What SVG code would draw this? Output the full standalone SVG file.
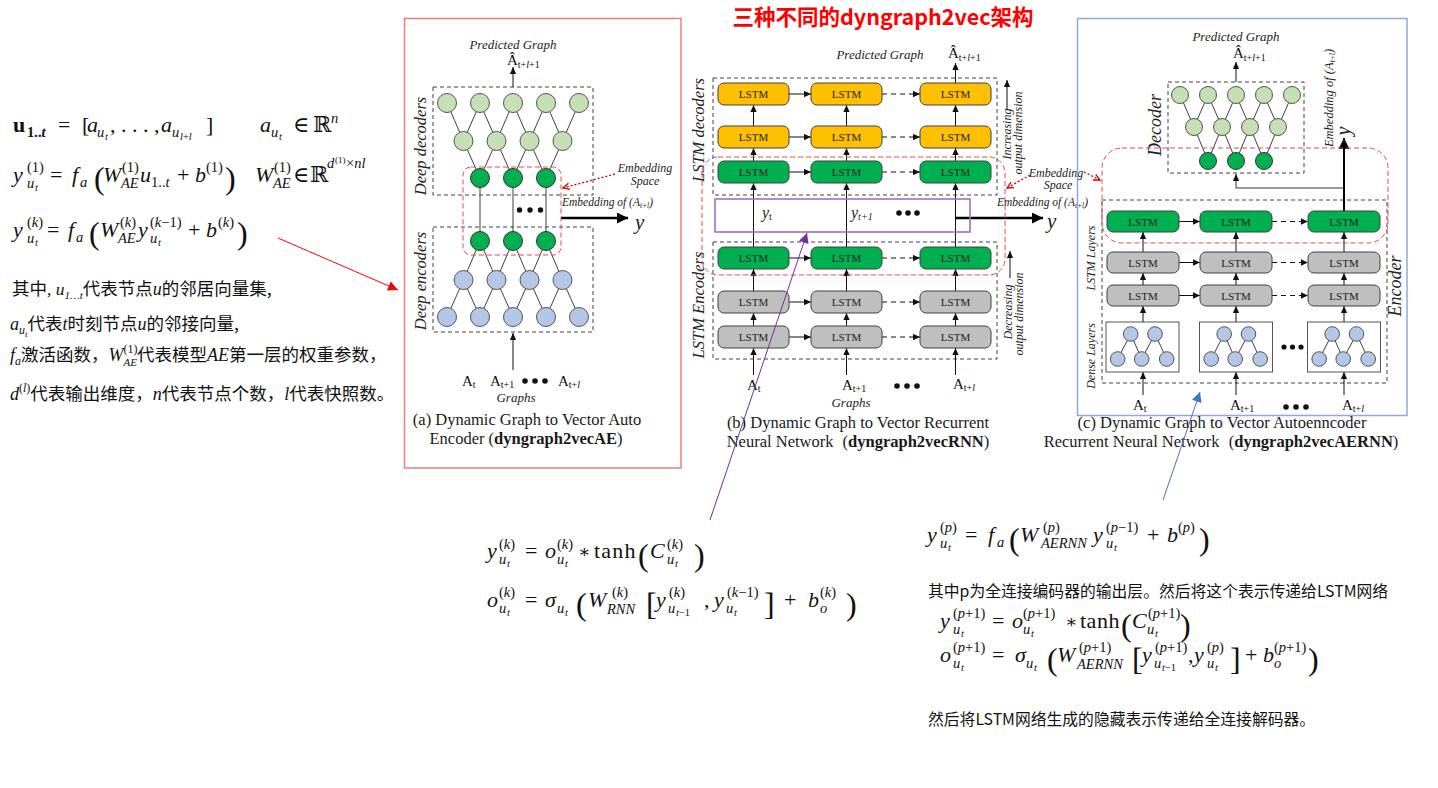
<svg xmlns="http://www.w3.org/2000/svg" width="1438" height="788" viewBox="0 0 1438 788">
<style>
.m{font-family:"Liberation Serif","DejaVu Serif",serif;font-size:22px;fill:#111}
.i{font-style:italic}
.s{font-size:14.5px}
.ss{font-size:10.5px}
.bg{font-size:32px;font-style:normal}
.cjk{font-family:"Noto Sans CJK SC",sans-serif;fill:#111}
.mi{font-family:"Liberation Serif","DejaVu Serif",serif;font-style:italic}
.lbl{font-family:"Liberation Serif",serif;font-style:italic;fill:#222}
.sr{font-family:"Liberation Serif",serif;fill:#111}
.cap{font-family:"Liberation Serif",serif;font-size:16.5px;fill:#1a1a1a}
.lt{font-family:"Liberation Serif",serif;font-size:11px;fill:#222;text-anchor:middle}
.or{fill:#ffc000;stroke:#404040;stroke-width:1}
.gn{fill:#00b050;stroke:#404040;stroke-width:1}
.gy{fill:#bfbfbf;stroke:#404040;stroke-width:1}
.dbox{fill:none;stroke:#404040;stroke-width:1;stroke-dasharray:4 3}
.rdash{fill:none;stroke:#e8474c;stroke-width:1;stroke-dasharray:5 3}
.e{stroke:#404040;stroke-width:1}
.a{stroke:#111;stroke-width:1;fill:none;marker-end:url(#ah)}
.ad{stroke:#111;stroke-width:1;fill:none;stroke-dasharray:5 4;marker-end:url(#ah)}
.lg{fill:#c5e0b4;stroke:#555;stroke-width:1}
.dg{fill:#00b050;stroke:#333;stroke-width:1}
.lb{fill:#b4c7e7;stroke:#555;stroke-width:1}
.dot{fill:#111}
</style>
<defs>
<marker id="ah" viewBox="0 0 10 10" refX="10" refY="5" markerWidth="7" markerHeight="7" markerUnits="userSpaceOnUse" orient="auto"><path d="M0,0.5 L10,5 L0,9.5 z" fill="#111"/></marker>
<marker id="ahT" viewBox="0 0 10 10" refX="10" refY="5" markerWidth="13" markerHeight="11" markerUnits="userSpaceOnUse" orient="auto"><path d="M0,0 L10,5 L0,10 z" fill="#000"/></marker>
<marker id="ahR" viewBox="0 0 10 10" refX="10" refY="5" markerWidth="12" markerHeight="10" markerUnits="userSpaceOnUse" orient="auto"><path d="M0,0 L10,5 L0,10 z" fill="#ff0000"/></marker>
<marker id="ahP" viewBox="0 0 10 10" refX="10" refY="5" markerWidth="13" markerHeight="10" markerUnits="userSpaceOnUse" orient="auto"><path d="M0,0 L10,5 L0,10 z" fill="#7030a0"/></marker>
<marker id="ahB" viewBox="0 0 10 10" refX="10" refY="5" markerWidth="13" markerHeight="10" markerUnits="userSpaceOnUse" orient="auto"><path d="M0,0 L10,5 L0,10 z" fill="#4472c4"/></marker>
<marker id="ahRo" viewBox="0 0 10 10" refX="9" refY="5" markerWidth="8" markerHeight="8" markerUnits="userSpaceOnUse" orient="auto"><path d="M1,1 L9,5 L1,9" fill="none" stroke="#d00000" stroke-width="1.6"/></marker>
</defs>
<rect width="1438" height="788" fill="#ffffff"/>

<!-- Title -->
<text id="title" x="883" y="25" text-anchor="middle" font-family="Noto Sans CJK SC,sans-serif" font-size="21.5" font-weight="bold" fill="#ff0000">三种不同的dyngraph2vec架构</text>

<!-- Left formulas -->
<g id="left-formulas">
<text class="m">
<tspan x="13" y="132" font-weight="bold">u</tspan><tspan x="27" y="137" class="s" font-weight="bold">1..<tspan class="i">t</tspan></tspan>
<tspan x="58" y="132">=</tspan><tspan x="82" y="132">[</tspan>
<tspan x="87" y="132" class="i">a</tspan><tspan x="97" y="137" class="s i">u</tspan><tspan x="105" y="140" class="ss i">t</tspan>
<tspan x="110" y="132">, . . . ,</tspan>
<tspan x="161" y="132" class="i">a</tspan><tspan x="172" y="137" class="s i">u</tspan><tspan x="180" y="140" class="ss"><tspan class="i">l</tspan>+<tspan class="i">l</tspan></tspan>
<tspan x="206" y="132">]</tspan>
<tspan x="260" y="132" class="i">a</tspan><tspan x="271" y="137" class="s i">u</tspan><tspan x="279" y="140" class="ss i">t</tspan>
<tspan x="293" y="132">∈</tspan><tspan x="313" y="132">ℝ</tspan><tspan x="331" y="123" class="s i">n</tspan>
</text>
<text class="m">
<tspan x="13" y="182" class="i">y</tspan><tspan x="27" y="172" class="s">(1)</tspan><tspan x="27" y="188" class="s i">u</tspan><tspan x="35" y="191" class="ss i">t</tspan>
<tspan x="50" y="182">=</tspan>
<tspan x="72" y="182" class="i">f</tspan><tspan x="80" y="187" class="s i">a</tspan>
<tspan x="94" y="189" class="bg">(</tspan>
<tspan x="103" y="182" class="i">W</tspan><tspan x="122" y="172" class="s">(1)</tspan><tspan x="121" y="188" class="s i">AE</tspan>
<tspan x="140" y="182" class="i">u</tspan><tspan x="151" y="187" class="s">1..<tspan class="i">t</tspan></tspan>
<tspan x="177" y="182">+</tspan>
<tspan x="195" y="182" class="i">b</tspan><tspan x="206" y="172" class="s">(1)</tspan>
<tspan x="225" y="189" class="bg">)</tspan>
<tspan x="255" y="182" class="i">W</tspan><tspan x="274" y="172" class="s">(1)</tspan><tspan x="273" y="188" class="s i">AE</tspan>
<tspan x="293" y="182">∈</tspan><tspan x="310" y="182">ℝ</tspan>
<tspan x="327" y="168" class="s i">d</tspan><tspan x="335" y="163" font-size="9">(1)</tspan><tspan x="346" y="168" class="s">×<tspan class="i">nl</tspan></tspan>
</text>
<text class="m">
<tspan x="13" y="237" class="i">y</tspan><tspan x="27" y="227" class="s">(<tspan class="i">k</tspan>)</tspan><tspan x="27" y="243" class="s i">u</tspan><tspan x="35" y="246" class="ss i">t</tspan>
<tspan x="47" y="237">=</tspan>
<tspan x="68" y="237" class="i">f</tspan><tspan x="76" y="242" class="s i">a</tspan>
<tspan x="89" y="244" class="bg">(</tspan>
<tspan x="100" y="237" class="i">W</tspan><tspan x="120" y="227" class="s">(<tspan class="i">k</tspan>)</tspan><tspan x="118" y="243" class="s i">AE</tspan>
<tspan x="138" y="237" class="i">y</tspan><tspan x="150" y="227" class="s">(<tspan class="i">k</tspan>−1)</tspan><tspan x="150" y="243" class="s i">u</tspan><tspan x="158" y="246" class="ss i">t</tspan>
<tspan x="188" y="237">+</tspan>
<tspan x="206" y="237" class="i">b</tspan><tspan x="218" y="227" class="s">(<tspan class="i">k</tspan>)</tspan>
<tspan x="237" y="244" class="bg">)</tspan>
</text>
</g>

<g id="left-notes" class="cjk" font-size="17.5">
<text x="12" y="295">其中<tspan class="mi">, u</tspan><tspan class="mi" font-size="11" dy="4">1…t</tspan><tspan dy="-4">代表节点</tspan><tspan class="mi" font-size="18">u</tspan>的邻居向量集,</text>
<text x="10" y="330"><tspan class="mi" font-size="18">a</tspan><tspan class="mi" font-size="12" dy="4">u</tspan><tspan class="mi" font-size="9" dy="3">t</tspan><tspan dy="-7">代表</tspan><tspan class="mi" font-size="18">t</tspan>时刻节点<tspan class="mi" font-size="18">u</tspan>的邻接向量,</text>
<text x="10" y="361"><tspan class="mi" font-size="18">f</tspan><tspan class="mi" font-size="12" dy="4">a</tspan><tspan dy="-4">激活函数，</tspan><tspan class="mi" font-size="18">W</tspan><tspan font-family="Liberation Serif,serif" font-size="12" dy="-8">(1)</tspan><tspan class="mi" font-size="11" dx="-14" dy="13">AE</tspan><tspan dy="-5">代表模型</tspan><tspan class="mi" font-size="18">AE</tspan>第一层的权重参数，</text>
<text x="10" y="400"><tspan class="mi" font-size="18">d</tspan><tspan font-family="Liberation Serif,serif" font-size="12" dy="-8">(<tspan font-style="italic">l</tspan>)</tspan><tspan dy="8">代表输出维度，</tspan><tspan class="mi" font-size="18">n</tspan>代表节点个数，<tspan class="mi" font-size="18">l</tspan>代表快照数。</text>
</g>

<!-- Bottom-left formulas -->
<g id="rnn-formulas">
<text class="m">
<tspan x="487" y="558" class="i">y</tspan><tspan x="499" y="549" class="s">(<tspan class="i">k</tspan>)</tspan><tspan x="499" y="564" class="s i">u</tspan><tspan x="507" y="567" class="ss i">t</tspan>
<tspan x="525" y="558">=</tspan>
<tspan x="545" y="558" class="i">o</tspan><tspan x="557" y="549" class="s">(<tspan class="i">k</tspan>)</tspan><tspan x="557" y="564" class="s i">u</tspan><tspan x="565" y="567" class="ss i">t</tspan>
<tspan x="578" y="558" font-size="18">∗</tspan>
<tspan x="594" y="558" letter-spacing="1.2">tanh</tspan>
<tspan x="638" y="566" class="bg">(</tspan>
<tspan x="650" y="558" class="i">C</tspan><tspan x="667" y="549" class="s">(<tspan class="i">k</tspan>)</tspan><tspan x="667" y="564" class="s i">u</tspan><tspan x="675" y="567" class="ss i">t</tspan>
<tspan x="694" y="566" class="bg">)</tspan>
</text>
<text class="m">
<tspan x="487" y="607" class="i">o</tspan><tspan x="499" y="597" class="s">(<tspan class="i">k</tspan>)</tspan><tspan x="499" y="613" class="s i">u</tspan><tspan x="507" y="616" class="ss i">t</tspan>
<tspan x="525" y="607">=</tspan>
<tspan x="545" y="607" class="i">σ</tspan><tspan x="557" y="613" class="s i">u</tspan><tspan x="565" y="616" class="ss i">t</tspan>
<tspan x="576" y="615" class="bg">(</tspan>
<tspan x="588" y="607" class="i">W</tspan><tspan x="612" y="597" class="s">(<tspan class="i">k</tspan>)</tspan><tspan x="607" y="614" class="s i">RNN</tspan>
<tspan x="646" y="615" class="bg">[</tspan>
<tspan x="656" y="607" class="i">y</tspan><tspan x="669" y="597" class="s">(<tspan class="i">k</tspan>)</tspan><tspan x="668" y="613" class="s i">u</tspan><tspan x="676" y="616" class="ss"><tspan class="i">t</tspan>−1</tspan>
<tspan x="704" y="607">,</tspan>
<tspan x="714" y="607" class="i">y</tspan><tspan x="727" y="597" class="s">(<tspan class="i">k</tspan>−1)</tspan><tspan x="726" y="613" class="s i">u</tspan><tspan x="734" y="616" class="ss i">t</tspan>
<tspan x="764" y="615" class="bg">]</tspan>
<tspan x="784" y="607">+</tspan>
<tspan x="808" y="607" class="i">b</tspan><tspan x="820" y="597" class="s">(<tspan class="i">k</tspan>)</tspan><tspan x="820" y="613" class="s i">o</tspan>
<tspan x="846" y="615" class="bg">)</tspan>
</text>
</g>

<!-- Right formulas -->
<g id="aernn-formulas">
<text class="m">
<tspan x="927" y="542" class="i">y</tspan><tspan x="940" y="532" class="s">(<tspan class="i">p</tspan>)</tspan><tspan x="940" y="548" class="s i">u</tspan><tspan x="948" y="551" class="ss i">t</tspan>
<tspan x="965" y="542">=</tspan>
<tspan x="988" y="542" class="i">f</tspan><tspan x="997" y="547" class="s i">a</tspan>
<tspan x="1009" y="550" class="bg">(</tspan>
<tspan x="1020" y="542" class="i">W</tspan><tspan x="1043" y="532" class="s">(<tspan class="i">p</tspan>)</tspan><tspan x="1041" y="548" class="s i">AERNN</tspan>
<tspan x="1093" y="542" class="i">y</tspan><tspan x="1106" y="532" class="s">(<tspan class="i">p</tspan>−1)</tspan><tspan x="1106" y="548" class="s i">u</tspan><tspan x="1114" y="551" class="ss i">t</tspan>
<tspan x="1147" y="542">+</tspan>
<tspan x="1167" y="542" class="i">b</tspan><tspan x="1178" y="532" class="s">(<tspan class="i">p</tspan>)</tspan>
<tspan x="1199" y="550" class="bg">)</tspan>
</text>
<text class="cjk" x="928" y="597" font-size="15.8" fill="#222">其中p为全连接编码器的输出层。然后将这个表示传递给LSTM网络</text>
<text class="m">
<tspan x="940" y="628" class="i">y</tspan><tspan x="953" y="618" class="s">(<tspan class="i">p</tspan>+1)</tspan><tspan x="953" y="634" class="s i">u</tspan><tspan x="961" y="637" class="ss i">t</tspan>
<tspan x="992" y="628">=</tspan>
<tspan x="1012" y="628" class="i">o</tspan><tspan x="1023" y="618" class="s">(<tspan class="i">p</tspan>+1)</tspan><tspan x="1023" y="634" class="s i">u</tspan><tspan x="1031" y="637" class="ss i">t</tspan>
<tspan x="1065" y="628" font-size="18">∗</tspan>
<tspan x="1080" y="628" letter-spacing="0.5">tanh</tspan>
<tspan x="1121" y="636" class="bg">(</tspan>
<tspan x="1132" y="628" class="i">C</tspan><tspan x="1148" y="618" class="s">(<tspan class="i">p</tspan>+1)</tspan><tspan x="1147" y="634" class="s i">u</tspan><tspan x="1155" y="637" class="ss i">t</tspan>
<tspan x="1180" y="636" class="bg">)</tspan>
</text>
<text class="m">
<tspan x="940" y="662" class="i">o</tspan><tspan x="953" y="652" class="s">(<tspan class="i">p</tspan>+1)</tspan><tspan x="953" y="668" class="s i">u</tspan><tspan x="961" y="671" class="ss i">t</tspan>
<tspan x="992" y="662">=</tspan>
<tspan x="1015" y="662" class="i">σ</tspan><tspan x="1026" y="668" class="s i">u</tspan><tspan x="1034" y="671" class="ss i">t</tspan>
<tspan x="1047" y="670" class="bg">(</tspan>
<tspan x="1057" y="662" class="i">W</tspan><tspan x="1079" y="652" class="s">(<tspan class="i">p</tspan>+1)</tspan><tspan x="1077" y="669" class="s i">AERNN</tspan>
<tspan x="1132" y="670" class="bg">[</tspan>
<tspan x="1142" y="662" class="i">y</tspan><tspan x="1155" y="652" class="s">(<tspan class="i">p</tspan>+1)</tspan><tspan x="1154" y="668" class="s i">u</tspan><tspan x="1162" y="671" class="ss"><tspan class="i">t</tspan>−1</tspan>
<tspan x="1188" y="662">,</tspan>
<tspan x="1194" y="662" class="i">y</tspan><tspan x="1207" y="652" class="s">(<tspan class="i">p</tspan>)</tspan><tspan x="1207" y="668" class="s i">u</tspan><tspan x="1215" y="671" class="ss i">t</tspan>
<tspan x="1230" y="670" class="bg">]</tspan>
<tspan x="1245" y="662">+</tspan>
<tspan x="1263" y="662" class="i">b</tspan><tspan x="1274" y="652" class="s">(<tspan class="i">p</tspan>+1)</tspan><tspan x="1274" y="668" class="s i">o</tspan>
<tspan x="1308" y="670" class="bg">)</tspan>
</text>
<text class="cjk" x="928" y="725" font-size="15.8" fill="#222">然后将LSTM网络生成的隐藏表示传递给全连接解码器。</text>
</g>

<!-- ================= Panel (a) ================= -->
<g id="panel-a">
<rect x="404.5" y="18.5" width="276.5" height="449.5" fill="none" stroke="#f07c7c" stroke-width="1.5"/>
<text class="lbl" x="513" y="49" font-size="13" text-anchor="middle">Predicted Graph</text>
<text class="sr" x="507" y="65" font-size="15">Â<tspan font-size="10" dy="3">t+<tspan font-style="italic">l</tspan>+1</tspan></text>
<rect class="dbox" x="433" y="87" width="160" height="108"/>
<rect class="dbox" x="433" y="227" width="160" height="105"/>
<text class="lbl" font-size="16.5" text-anchor="middle" transform="translate(426,146) rotate(-90)">Deep decoders</text>
<text class="lbl" font-size="16.5" text-anchor="middle" transform="translate(426,281) rotate(-90)">Deep encoders</text>
</g>

<g id="a-connectors">
<line class="a" x1="513" y1="87" x2="513" y2="67"/>
<line class="a" x1="513" y1="370" x2="513" y2="333"/>
<g class="e">
<line x1="463.5" y1="141" x2="447" y2="103"/><line x1="463.5" y1="141" x2="480" y2="103"/>
<line x1="496.5" y1="141" x2="480" y2="103"/><line x1="496.5" y1="141" x2="513" y2="103"/>
<line x1="529.5" y1="141" x2="513" y2="103"/><line x1="529.5" y1="141" x2="546" y2="103"/>
<line x1="562.5" y1="141" x2="546" y2="103"/><line x1="562.5" y1="141" x2="579" y2="103"/>
<line x1="480" y1="178" x2="463.5" y2="141"/><line x1="480" y1="178" x2="496.5" y2="141"/>
<line x1="513" y1="178" x2="496.5" y2="141"/><line x1="513" y1="178" x2="529.5" y2="141"/>
<line x1="546" y1="178" x2="529.5" y2="141"/><line x1="546" y1="178" x2="562.5" y2="141"/>
<line x1="480" y1="178" x2="480" y2="241"/><line x1="513" y1="178" x2="513" y2="241"/><line x1="546" y1="178" x2="546" y2="241"/>
<line x1="480" y1="241" x2="463.5" y2="280"/><line x1="480" y1="241" x2="496.5" y2="280"/>
<line x1="513" y1="241" x2="496.5" y2="280"/><line x1="513" y1="241" x2="529.5" y2="280"/>
<line x1="546" y1="241" x2="529.5" y2="280"/><line x1="546" y1="241" x2="562.5" y2="280"/>
<line x1="463.5" y1="280" x2="447" y2="317"/><line x1="463.5" y1="280" x2="480" y2="317"/>
<line x1="496.5" y1="280" x2="480" y2="317"/><line x1="496.5" y1="280" x2="513" y2="317"/>
<line x1="529.5" y1="280" x2="513" y2="317"/><line x1="529.5" y1="280" x2="546" y2="317"/>
<line x1="562.5" y1="280" x2="546" y2="317"/><line x1="562.5" y1="280" x2="579" y2="317"/>
</g>
<line x1="561" y1="218" x2="628" y2="218" stroke="#000" stroke-width="2.5" marker-end="url(#ahT)"/>
<line x1="615" y1="174" x2="563" y2="188" stroke="#d00000" stroke-width="1.3" stroke-dasharray="2 2" marker-end="url(#ahRo)"/>
</g>

<g id="a-decoder-l1"><circle class="lg" cx="447" cy="103" r="9.5"/><circle class="lg" cx="480" cy="103" r="9.5"/><circle class="lg" cx="513" cy="103" r="9.5"/><circle class="lg" cx="546" cy="103" r="9.5"/><circle class="lg" cx="579" cy="103" r="9.5"/></g>
<g id="a-decoder-l2"><circle class="lg" cx="463.5" cy="141" r="9.5"/><circle class="lg" cx="496.5" cy="141" r="9.5"/><circle class="lg" cx="529.5" cy="141" r="9.5"/><circle class="lg" cx="562.5" cy="141" r="9.5"/></g>
<g id="a-embed-top"><circle class="dg" cx="480" cy="178" r="9.5"/><circle class="dg" cx="513" cy="178" r="9.5"/><circle class="dg" cx="546" cy="178" r="9.5"/></g>
<g id="a-embed-bottom"><circle class="dg" cx="480" cy="241" r="9.5"/><circle class="dg" cx="513" cy="241" r="9.5"/><circle class="dg" cx="546" cy="241" r="9.5"/></g>
<g id="a-encoder-l2"><circle class="lb" cx="463.5" cy="280" r="9.5"/><circle class="lb" cx="496.5" cy="280" r="9.5"/><circle class="lb" cx="529.5" cy="280" r="9.5"/><circle class="lb" cx="562.5" cy="280" r="9.5"/></g>
<g id="a-encoder-l1"><circle class="lb" cx="447" cy="317" r="9.5"/><circle class="lb" cx="480" cy="317" r="9.5"/><circle class="lb" cx="513" cy="317" r="9.5"/><circle class="lb" cx="546" cy="317" r="9.5"/><circle class="lb" cx="579" cy="317" r="9.5"/></g>
<g id="a-embedding-space">
<rect class="rdash" x="463" y="167" width="98" height="88" rx="8"/>
<circle class="dot" cx="519.5" cy="210" r="2.7"/><circle class="dot" cx="530" cy="210" r="2.7"/><circle class="dot" cx="540.5" cy="210" r="2.7"/>
<text class="lbl" font-size="12" text-anchor="middle" x="645" y="172">Embedding</text>
<text class="lbl" font-size="12" text-anchor="middle" x="645" y="185">Space</text>
<text class="lbl" font-size="11.5" x="562" y="206">Embedding of (<tspan>A</tspan><tspan font-size="7.5" dy="2">t+l</tspan><tspan dy="-2">)</tspan></text>
<text class="lbl" font-size="21" x="635" y="229">y</text>
</g>
<g id="a-inputs" class="sr">
<text x="462" y="386" font-size="15">A<tspan font-size="10" dy="2">t</tspan></text>
<text x="490" y="386" font-size="15">A<tspan font-size="10" dy="2">t+1</tspan></text>
<circle class="dot" cx="525" cy="381" r="2.8"/><circle class="dot" cx="535" cy="381" r="2.8"/><circle class="dot" cx="545" cy="381" r="2.8"/>
<text x="558" y="386" font-size="15">A<tspan font-size="10" dy="2">t+<tspan font-style="italic">l</tspan></tspan></text>
<text class="lbl" x="516" y="402" font-size="13" text-anchor="middle">Graphs</text>
</g>
<g id="a-caption" class="cap" text-anchor="middle">
<text x="527" y="425">(a) Dynamic Graph to Vector Auto</text>
<text x="526" y="444">Encoder (<tspan font-weight="bold">dyngraph2vecAE</tspan>)</text>
</g>

<!-- ================= Panel (b) ================= -->
<g id="panel-b">
<text class="lbl" x="880" y="59" font-size="13" text-anchor="middle">Predicted Graph</text>
<text class="sr" x="948" y="58" font-size="15">Â<tspan font-size="10" dy="3">t+<tspan font-style="italic">l</tspan>+1</tspan></text>
<rect class="dbox" x="713" y="78" width="284" height="117"/>
<rect class="dbox" x="713" y="242" width="284" height="117"/>
<text class="lbl" font-size="16.5" text-anchor="middle" transform="translate(704,130) rotate(-90)">LSTM decoders</text>
<text class="lbl" font-size="16.5" text-anchor="middle" transform="translate(704,305) rotate(-90)">LSTM Encoders</text>
<text class="lbl" font-size="12" text-anchor="middle" transform="translate(1011,134) rotate(-90)">Increasing</text>
<text class="lbl" font-size="12" text-anchor="middle" transform="translate(1022,133) rotate(-90)">output dimension</text>
<text class="lbl" font-size="12" text-anchor="middle" transform="translate(1012,312) rotate(-90)">Decreasing</text>
<text class="lbl" font-size="12" text-anchor="middle" transform="translate(1023,314) rotate(-90)">output dimension</text>
</g>

<g id="b-connectors">
<line class="a" x1="1007" y1="110" x2="1007" y2="80"/>
<line class="a" x1="1010" y1="278" x2="1010" y2="251"/>
<g id="b-vert">
<line class="a" x1="753.5" y1="375" x2="753.5" y2="348"/><line class="a" x1="846.5" y1="375" x2="846.5" y2="348"/><line class="a" x1="955.5" y1="375" x2="955.5" y2="348"/>
<line class="a" x1="753.5" y1="326" x2="753.5" y2="313"/><line class="a" x1="846.5" y1="326" x2="846.5" y2="313"/><line class="a" x1="955.5" y1="326" x2="955.5" y2="313"/>
<line class="a" x1="753.5" y1="291" x2="753.5" y2="269"/><line class="a" x1="846.5" y1="291" x2="846.5" y2="269"/><line class="a" x1="955.5" y1="291" x2="955.5" y2="269"/>
<line class="a" x1="753.5" y1="247" x2="753.5" y2="183"/><line class="a" x1="846.5" y1="247" x2="846.5" y2="183"/><line class="a" x1="955.5" y1="247" x2="955.5" y2="183"/>
<line class="a" x1="753.5" y1="161" x2="753.5" y2="148"/><line class="a" x1="846.5" y1="161" x2="846.5" y2="148"/><line class="a" x1="955.5" y1="161" x2="955.5" y2="148"/>
<line class="a" x1="753.5" y1="126" x2="753.5" y2="105"/><line class="a" x1="846.5" y1="126" x2="846.5" y2="105"/><line class="a" x1="955.5" y1="126" x2="955.5" y2="105"/>
<line class="a" x1="955.5" y1="83" x2="955.5" y2="63"/>
</g>
<g id="b-horiz">
<line class="a" x1="789" y1="94" x2="811" y2="94"/><line class="ad" x1="882" y1="94" x2="920" y2="94"/>
<line class="a" x1="789" y1="137" x2="811" y2="137"/><line class="ad" x1="882" y1="137" x2="920" y2="137"/>
<line class="a" x1="789" y1="172" x2="811" y2="172"/><line class="ad" x1="882" y1="172" x2="920" y2="172"/>
<line class="a" x1="789" y1="258" x2="811" y2="258"/><line class="ad" x1="882" y1="258" x2="920" y2="258"/>
<line class="a" x1="789" y1="302" x2="811" y2="302"/><line class="ad" x1="882" y1="302" x2="920" y2="302"/>
<line class="a" x1="789" y1="337" x2="811" y2="337"/><line class="ad" x1="882" y1="337" x2="920" y2="337"/>
</g>
<line x1="955.5" y1="218" x2="1043" y2="218" stroke="#000" stroke-width="2.5" marker-end="url(#ahT)"/>
<line x1="1030" y1="175" x2="1007" y2="188" stroke="#d00000" stroke-width="1.3" stroke-dasharray="2 2" marker-end="url(#ahRo)"/>
<line x1="1084" y1="172" x2="1100" y2="180" stroke="#d00000" stroke-width="1.3" stroke-dasharray="2 2" marker-end="url(#ahRo)"/>
</g>

<g id="b-lstm" >
<g id="b-o1-1"><rect class="or" x="718" y="83" width="71" height="22" rx="6"/><text class="lt" x="753.5" y="98">LSTM</text></g>
<g id="b-o1-2"><rect class="or" x="811" y="83" width="71" height="22" rx="6"/><text class="lt" x="846.5" y="98">LSTM</text></g>
<g id="b-o1-3"><rect class="or" x="920" y="83" width="71" height="22" rx="6"/><text class="lt" x="955.5" y="98">LSTM</text></g>
<g id="b-o2-1"><rect class="or" x="718" y="126" width="71" height="22" rx="6"/><text class="lt" x="753.5" y="141">LSTM</text></g>
<g id="b-o2-2"><rect class="or" x="811" y="126" width="71" height="22" rx="6"/><text class="lt" x="846.5" y="141">LSTM</text></g>
<g id="b-o2-3"><rect class="or" x="920" y="126" width="71" height="22" rx="6"/><text class="lt" x="955.5" y="141">LSTM</text></g>
<g id="b-g1-1"><rect class="gn" x="718" y="161" width="71" height="22" rx="6"/><text class="lt" x="753.5" y="176">LSTM</text></g>
<g id="b-g1-2"><rect class="gn" x="811" y="161" width="71" height="22" rx="6"/><text class="lt" x="846.5" y="176">LSTM</text></g>
<g id="b-g1-3"><rect class="gn" x="920" y="161" width="71" height="22" rx="6"/><text class="lt" x="955.5" y="176">LSTM</text></g>
<g id="b-g2-1"><rect class="gn" x="718" y="247" width="71" height="22" rx="6"/><text class="lt" x="753.5" y="262">LSTM</text></g>
<g id="b-g2-2"><rect class="gn" x="811" y="247" width="71" height="22" rx="6"/><text class="lt" x="846.5" y="262">LSTM</text></g>
<g id="b-g2-3"><rect class="gn" x="920" y="247" width="71" height="22" rx="6"/><text class="lt" x="955.5" y="262">LSTM</text></g>
<g id="b-r1-1"><rect class="gy" x="718" y="291" width="71" height="22" rx="6"/><text class="lt" x="753.5" y="306">LSTM</text></g>
<g id="b-r1-2"><rect class="gy" x="811" y="291" width="71" height="22" rx="6"/><text class="lt" x="846.5" y="306">LSTM</text></g>
<g id="b-r1-3"><rect class="gy" x="920" y="291" width="71" height="22" rx="6"/><text class="lt" x="955.5" y="306">LSTM</text></g>
<g id="b-r2-1"><rect class="gy" x="718" y="326" width="71" height="22" rx="6"/><text class="lt" x="753.5" y="341">LSTM</text></g>
<g id="b-r2-2"><rect class="gy" x="811" y="326" width="71" height="22" rx="6"/><text class="lt" x="846.5" y="341">LSTM</text></g>
<g id="b-r2-3"><rect class="gy" x="920" y="326" width="71" height="22" rx="6"/><text class="lt" x="955.5" y="341">LSTM</text></g>
</g>
<g id="b-embedding">
<rect x="715" y="199" width="255" height="33" fill="none" stroke="#a070d0" stroke-width="1.6"/>
<text class="lbl" x="762" y="218" font-size="16">y<tspan font-size="10" font-style="normal" dy="2">t</tspan></text>
<text class="lbl" x="851" y="218" font-size="16">y<tspan font-size="10" dy="2">t+1</tspan></text>
<circle class="dot" cx="899" cy="213" r="2.8"/><circle class="dot" cx="908" cy="213" r="2.8"/><circle class="dot" cx="917" cy="213" r="2.8"/>
<rect class="rdash" x="702" y="157" width="303" height="118" rx="16"/>
<text class="lbl" font-size="12" text-anchor="middle" x="1056" y="177">Embedding</text>
<text class="lbl" font-size="12" text-anchor="middle" x="1058" y="189">Space</text>
<text class="lbl" font-size="11.5" x="997" y="206">Embedding of (<tspan>A</tspan><tspan font-size="7.5" dy="2">t+l</tspan><tspan dy="-2">)</tspan></text>
<text class="lbl" font-size="21" x="1047" y="228">y</text>
</g>
<g id="b-inputs" class="sr">
<text x="747" y="390" font-size="15">A<tspan font-size="10" dy="2">t</tspan></text>
<text x="842" y="390" font-size="15">A<tspan font-size="10" dy="2">t+1</tspan></text>
<circle class="dot" cx="897" cy="386" r="2.8"/><circle class="dot" cx="907" cy="386" r="2.8"/><circle class="dot" cx="917" cy="386" r="2.8"/>
<text x="953" y="389" font-size="15">A<tspan font-size="10" dy="2">t+<tspan font-style="italic">l</tspan></tspan></text>
<text class="lbl" x="851" y="407" font-size="13" text-anchor="middle">Graphs</text>
</g>
<g id="b-caption" class="cap" text-anchor="middle">
<text x="858" y="428">(b) Dynamic Graph to Vector Recurrent</text>
<text x="858" y="447">Neural Network <tspan dx="5">(</tspan><tspan font-weight="bold">dyngraph2vecRNN</tspan>)</text>
</g>

<!-- ================= Panel (c) ================= -->
<g id="panel-c">
<rect x="1077.5" y="18.5" width="329.5" height="397" fill="none" stroke="#8eaadb" stroke-width="1.5"/>
<text class="lbl" x="1236" y="41" font-size="13" text-anchor="middle">Predicted Graph</text>
<text class="sr" x="1233" y="58" font-size="15">Â<tspan font-size="10" dy="3">t+<tspan font-style="italic">l</tspan>+1</tspan></text>
<rect class="dbox" x="1168" y="82" width="136" height="91"/>
<rect class="dbox" x="1102" y="200" width="285" height="183"/>
<text class="lbl" font-size="18" text-anchor="middle" transform="translate(1161,125) rotate(-90)">Decoder</text>
<text class="lbl" font-size="18" text-anchor="middle" transform="translate(1401,286) rotate(-90)">Encoder</text>
<text class="lbl" font-size="12" text-anchor="middle" transform="translate(1095,258) rotate(-90)">LSTM Layers</text>
<text class="lbl" font-size="12" text-anchor="middle" transform="translate(1095,356) rotate(-90)">Dense Layers</text>
<text class="lbl" font-size="12.5" text-anchor="middle" transform="translate(1333,98) rotate(-90)">Embedding of (A<tspan font-size="7.5" dy="2">t+l</tspan><tspan dy="-2">)</tspan></text>
<text class="lbl" font-size="20" text-anchor="middle" transform="translate(1350,131) rotate(-90)">y</text>
</g>

<g id="c-connectors">
<line class="a" x1="1236" y1="82" x2="1236" y2="62"/>
<g class="e">
<line x1="1194" y1="127" x2="1180" y2="95"/><line x1="1194" y1="127" x2="1208" y2="95"/>
<line x1="1222" y1="127" x2="1208" y2="95"/><line x1="1222" y1="127" x2="1236" y2="95"/>
<line x1="1250" y1="127" x2="1236" y2="95"/><line x1="1250" y1="127" x2="1264" y2="95"/>
<line x1="1278" y1="127" x2="1264" y2="95"/><line x1="1278" y1="127" x2="1292" y2="95"/>
<line x1="1208" y1="161" x2="1194" y2="127"/><line x1="1208" y1="161" x2="1222" y2="127"/>
<line x1="1236" y1="161" x2="1222" y2="127"/><line x1="1236" y1="161" x2="1250" y2="127"/>
<line x1="1264" y1="161" x2="1250" y2="127"/><line x1="1264" y1="161" x2="1278" y2="127"/>
</g>
<line class="a" x1="1143" y1="395" x2="1143" y2="372"/><line class="a" x1="1236" y1="395" x2="1236" y2="372"/><line class="a" x1="1344" y1="395" x2="1344" y2="372"/>
<line class="a" x1="1143" y1="322" x2="1143" y2="306"/><line class="a" x1="1236" y1="322" x2="1236" y2="306"/><line class="a" x1="1344" y1="322" x2="1344" y2="306"/>
<line class="a" x1="1143" y1="285" x2="1143" y2="273"/><line class="a" x1="1236" y1="285" x2="1236" y2="273"/><line class="a" x1="1344" y1="285" x2="1344" y2="273"/>
<line class="a" x1="1143" y1="252" x2="1143" y2="232"/><line class="a" x1="1236" y1="252" x2="1236" y2="232"/><line class="a" x1="1344" y1="252" x2="1344" y2="232"/>
<line class="a" x1="1179" y1="221.5" x2="1200" y2="221.5"/><line class="ad" x1="1272" y1="221.5" x2="1308" y2="221.5"/>
<line class="a" x1="1179" y1="262.5" x2="1200" y2="262.5"/><line class="ad" x1="1272" y1="262.5" x2="1308" y2="262.5"/>
<line class="a" x1="1179" y1="295.5" x2="1200" y2="295.5"/><line class="ad" x1="1272" y1="295.5" x2="1308" y2="295.5"/>
<polyline points="1344,188 1236,188 1236,174" fill="none" stroke="#333" stroke-width="1" marker-end="url(#ah)"/>
<line x1="1344" y1="211" x2="1344" y2="138" stroke="#000" stroke-width="2" marker-end="url(#ahT)"/>
</g>

<g id="c-decoder-l1"><circle class="lg" cx="1180" cy="95" r="8.5"/><circle class="lg" cx="1208" cy="95" r="8.5"/><circle class="lg" cx="1236" cy="95" r="8.5"/><circle class="lg" cx="1264" cy="95" r="8.5"/><circle class="lg" cx="1292" cy="95" r="8.5"/></g>
<g id="c-decoder-l2"><circle class="lg" cx="1194" cy="127" r="8.5"/><circle class="lg" cx="1222" cy="127" r="8.5"/><circle class="lg" cx="1250" cy="127" r="8.5"/><circle class="lg" cx="1278" cy="127" r="8.5"/></g>
<g id="c-decoder-l3"><circle class="dg" cx="1208" cy="161" r="8.5"/><circle class="dg" cx="1236" cy="161" r="8.5"/><circle class="dg" cx="1264" cy="161" r="8.5"/></g>

<g id="c-lstm">
<g id="c-g-1"><rect class="gn" x="1107" y="211" width="72" height="21" rx="6"/><text class="lt" x="1143" y="225.5">LSTM</text></g>
<g id="c-g-2"><rect class="gn" x="1200" y="211" width="72" height="21" rx="6"/><text class="lt" x="1236" y="225.5">LSTM</text></g>
<g id="c-g-3"><rect class="gn" x="1308" y="211" width="72" height="21" rx="6"/><text class="lt" x="1344" y="225.5">LSTM</text></g>
<g id="c-r1-1"><rect class="gy" x="1107" y="252" width="72" height="21" rx="6"/><text class="lt" x="1143" y="266.5">LSTM</text></g>
<g id="c-r1-2"><rect class="gy" x="1200" y="252" width="72" height="21" rx="6"/><text class="lt" x="1236" y="266.5">LSTM</text></g>
<g id="c-r1-3"><rect class="gy" x="1308" y="252" width="72" height="21" rx="6"/><text class="lt" x="1344" y="266.5">LSTM</text></g>
<g id="c-r2-1"><rect class="gy" x="1107" y="285" width="72" height="21" rx="6"/><text class="lt" x="1143" y="299.5">LSTM</text></g>
<g id="c-r2-2"><rect class="gy" x="1200" y="285" width="72" height="21" rx="6"/><text class="lt" x="1236" y="299.5">LSTM</text></g>
<g id="c-r2-3"><rect class="gy" x="1308" y="285" width="72" height="21" rx="6"/><text class="lt" x="1344" y="299.5">LSTM</text></g>
</g>

<g id="c-dense-1">
<rect x="1106" y="322" width="73" height="50" fill="#fff" stroke="#555" stroke-width="1"/>
<g class="e"><line x1="1130.7" y1="334" x2="1117.7" y2="359"/><line x1="1130.7" y1="334" x2="1141.7" y2="359"/><line x1="1155" y1="334" x2="1141.7" y2="359"/><line x1="1155" y1="334" x2="1166.7" y2="359"/></g>
<circle class="lb" cx="1130.7" cy="334" r="7.3"/><circle class="lb" cx="1155" cy="334" r="7.3"/>
<circle class="lb" cx="1117.7" cy="359" r="7.3"/><circle class="lb" cx="1141.7" cy="359" r="7.3"/><circle class="lb" cx="1166.7" cy="359" r="7.3"/>
</g>
<g id="c-dense-2">
<rect x="1199.5" y="322" width="73" height="50" fill="#fff" stroke="#555" stroke-width="1"/>
<g class="e"><line x1="1224.2" y1="334" x2="1211.2" y2="359"/><line x1="1224.2" y1="334" x2="1235.2" y2="359"/><line x1="1248.5" y1="334" x2="1235.2" y2="359"/><line x1="1248.5" y1="334" x2="1260.2" y2="359"/></g>
<circle class="lb" cx="1224.2" cy="334" r="7.3"/><circle class="lb" cx="1248.5" cy="334" r="7.3"/>
<circle class="lb" cx="1211.2" cy="359" r="7.3"/><circle class="lb" cx="1235.2" cy="359" r="7.3"/><circle class="lb" cx="1260.2" cy="359" r="7.3"/>
</g>
<g id="c-dense-3">
<rect x="1307.5" y="322" width="73" height="50" fill="#fff" stroke="#555" stroke-width="1"/>
<g class="e"><line x1="1332.2" y1="334" x2="1319.2" y2="359"/><line x1="1332.2" y1="334" x2="1343.2" y2="359"/><line x1="1356.5" y1="334" x2="1343.2" y2="359"/><line x1="1356.5" y1="334" x2="1368.2" y2="359"/></g>
<circle class="lb" cx="1332.2" cy="334" r="7.3"/><circle class="lb" cx="1356.5" cy="334" r="7.3"/>
<circle class="lb" cx="1319.2" cy="359" r="7.3"/><circle class="lb" cx="1343.2" cy="359" r="7.3"/><circle class="lb" cx="1368.2" cy="359" r="7.3"/>
</g>
<g id="c-dense-dots"><circle class="dot" cx="1284" cy="347" r="2.6"/><circle class="dot" cx="1292.5" cy="347" r="2.6"/><circle class="dot" cx="1301" cy="347" r="2.6"/></g>
<rect id="c-embedding-space" class="rdash" x="1102" y="148" width="286" height="95" rx="20"/>

<g id="c-inputs" class="sr">
<text x="1133" y="410" font-size="15">A<tspan font-size="10" dy="2">t</tspan></text>
<text x="1230" y="410" font-size="15">A<tspan font-size="10" dy="2">t+1</tspan></text>
<circle class="dot" cx="1286" cy="407" r="2.8"/><circle class="dot" cx="1296" cy="407" r="2.8"/><circle class="dot" cx="1306" cy="407" r="2.8"/>
<text x="1342" y="410" font-size="15">A<tspan font-size="10" dy="2">t+<tspan font-style="italic">l</tspan></tspan></text>
</g>
<g id="c-caption" class="cap" text-anchor="middle">
<text x="1222" y="428">(c) Dynamic Graph to Vector Autoenncoder</text>
<text x="1221" y="447">Recurrent Neural Network <tspan dx="5">(</tspan><tspan font-weight="bold">dyngraph2vecAERNN</tspan>)</text>
</g>

<!-- annotation arrows -->
<g id="annotation-arrows">
<line x1="278" y1="238" x2="398" y2="290" stroke="#ff0000" stroke-width="1" marker-end="url(#ahR)"/>
<line x1="710" y1="520" x2="807" y2="233" stroke="#7030a0" stroke-width="1" marker-end="url(#ahP)"/>
<line x1="1163" y1="500" x2="1200" y2="392" stroke="#4472c4" stroke-width="1" marker-end="url(#ahB)"/>
</g>
</svg>
